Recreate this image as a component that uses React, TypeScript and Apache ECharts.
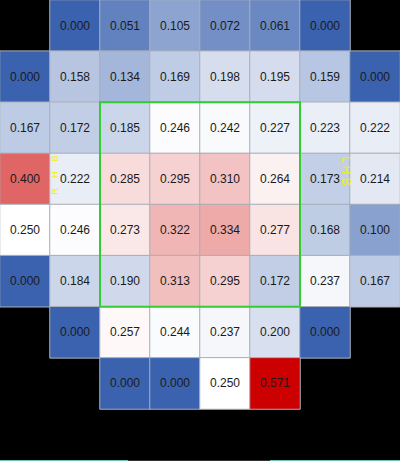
import React, { useEffect, useRef } from "react";
import * as echarts from "echarts";

const columns = ["c0", "c1", "c2", "c3", "c4", "c5", "c6", "c7"];
const rows = ["r0", "r1", "r2", "r3", "r4", "r5", "r6", "r7"];

const row0 = [null, 0.0, 0.051, 0.105, 0.072, 0.061, 0.0, null];
const row1 = [0.0, 0.158, 0.134, 0.169, 0.198, 0.195, 0.159, 0.0];
const row2 = [0.167, 0.172, 0.185, 0.246, 0.242, 0.227, 0.223, 0.222];
const row3 = [0.4, 0.222, 0.285, 0.295, 0.31, 0.264, 0.173, 0.214];
const row4 = [0.25, 0.246, 0.273, 0.322, 0.334, 0.277, 0.168, 0.1];
const row5 = [0.0, 0.184, 0.19, 0.313, 0.295, 0.172, 0.237, 0.167];
const row6 = [null, 0.0, 0.257, 0.244, 0.237, 0.2, 0.0, null];
const row7 = [null, null, 0.0, 0.0, 0.25, 0.571, null, null];

const matrix = [row0, row1, row2, row3, row4, row5, row6, row7];

// highlighted box: columns 2..5, rows 2..5
const boxCols = [2, 5];
const boxRows = [2, 5];

export default function App() {
  const ref = useRef<HTMLDivElement>(null);
  useEffect(() => {
    if (!ref.current) return;
    const chart = echarts.init(ref.current, undefined, { renderer: "svg" });
    const data: any[] = [];
    matrix.forEach((r, yi) =>
      r.forEach((v, xi) => {
        if (v !== null) data.push([xi, yi, v]);
      })
    );
    chart.setOption({
      animation: false,
      backgroundColor: "#000000",
      grid: { left: 0, right: 0, top: 0, height: 409 },
      xAxis: {
        type: "category",
        data: columns,
        show: false,
      },
      yAxis: {
        type: "category",
        data: rows,
        inverse: true,
        show: false,
      },
      visualMap: {
        show: false,
        type: "continuous",
        min: 0,
        max: 0.5,
        dimension: 2,
        inRange: { color: ["#3a62ae", "#ffffff", "#cc0000"] },
        outOfRange: { color: "#cc0000" },
      },
      series: [
        {
          type: "heatmap",
          data,
          itemStyle: { borderColor: "#a9aebb", borderWidth: 1 },
          label: {
            show: true,
            color: "#1a1a1a",
            fontSize: 12,
            fontFamily: "Arial, 'Liberation Sans', sans-serif",
            formatter: (p: any) => Number(p.value[2]).toFixed(3),
          },
          emphasis: { disabled: true },
        },
      ],
    });

    const tl = chart.convertToPixel({ gridIndex: 0 }, [boxCols[0], boxRows[0]]) as number[];
    const br = chart.convertToPixel({ gridIndex: 0 }, [boxCols[1], boxRows[1]]) as number[];
    const cw = 400 / columns.length;
    const ch = 409 / rows.length;
    const left = tl[0] - cw / 2;
    const top = tl[1] - ch / 2;
    const right = br[0] + cw / 2;
    const bottom = br[1] + ch / 2;

    const rP = chart.convertToPixel({ gridIndex: 0 }, [1, 3]) as number[];
    const lP = chart.convertToPixel({ gridIndex: 0 }, [6, 3]) as number[];

    chart.setOption({
      graphic: [
        {
          type: "rect",
          shape: { x: left, y: top, width: right - left, height: bottom - top },
          style: { fill: "none", stroke: "#33cc33", lineWidth: 2 },
          z: 100,
        },
        {
          type: "text",
          x: lP[0] + cw / 2 - 4,
          y: lP[1] - 8,
          rotation: -Math.PI / 2,
          z: 100,
          style: {
            text: "L H B",
            fill: "#f0f000",
            fontSize: 12,
            fontFamily: "Arial, 'Liberation Sans', sans-serif",
            align: "center",
            verticalAlign: "middle",
          },
        },
        {
          type: "text",
          x: rP[0] - cw / 2 + 5,
          y: rP[1] - 4,
          rotation: Math.PI / 2,
          z: 100,
          style: {
            text: "R    H    B",
            fill: "#f0f000",
            fontSize: 9,
            fontFamily: "Arial, 'Liberation Sans', sans-serif",
            align: "center",
            verticalAlign: "middle",
          },
        },
        {
          type: "rect",
          shape: { x: 0, y: 460, width: 128, height: 1 },
          style: { fill: "#6fc0b0" },
        },
        {
          type: "rect",
          shape: { x: 128, y: 460, width: 142, height: 1 },
          style: { fill: "#333333" },
        },
        {
          type: "rect",
          shape: { x: 270, y: 460, width: 130, height: 1 },
          style: { fill: "#6fc0b0" },
        },
      ],
    });
    return () => chart.dispose();
  }, []);
  return (
    <div
      ref={ref}
      style={{ position: "fixed", left: 0, top: 0, width: 400, height: 461 }}
    />
  );
}
